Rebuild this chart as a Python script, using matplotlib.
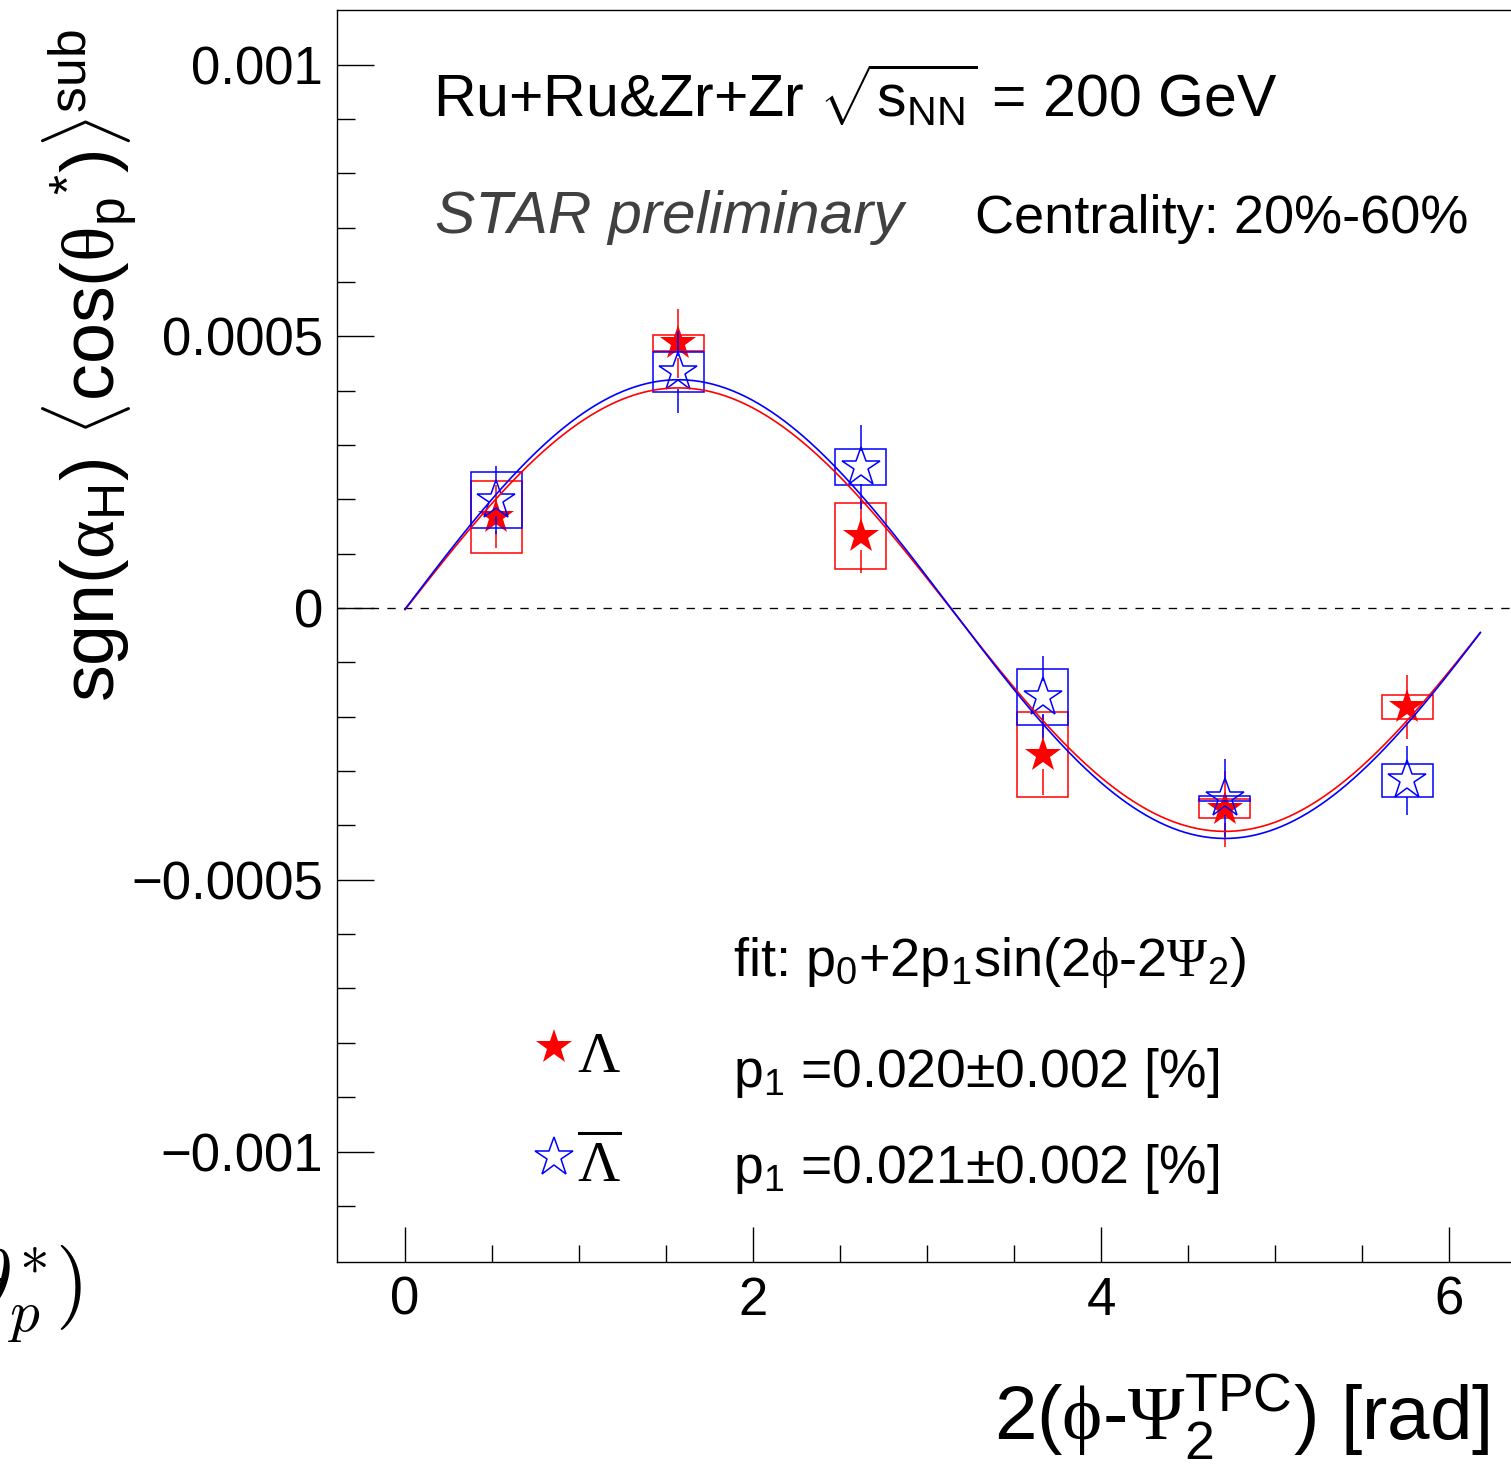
import numpy as np
import matplotlib
matplotlib.use("Agg")
import matplotlib.pyplot as plt
from matplotlib.lines import Line2D
from matplotlib.ticker import FixedLocator, FixedFormatter, MultipleLocator

plt.rcParams.update({
    "font.family": ["Liberation Sans", "DejaVu Sans"],
    "mathtext.fontset": "custom",
    "mathtext.rm": "Liberation Sans",
    "mathtext.it": "Liberation Sans:italic",
    "mathtext.bf": "Liberation Sans:bold",
    "mathtext.sf": "Liberation Serif",
    "mathtext.default": "rm",
})

# ---- data -------------------------------------------------------------
# bin centres in 2(phi - Psi2) [rad]
phase = [0.524, 1.571, 2.618, 3.665, 4.712, 5.760]

# Lambda
lam_val = [0.000168, 0.000487, 0.000133, -0.000270, -0.000369, -0.000182]
lam_stat = [0.000058, 0.000064, 0.000069, 0.000074, 0.000070, 0.000059]
lam_sys = [0.000066, 0.000015, 0.000061, 0.000078, 0.000018, 0.000022]

# anti-Lambda
alam_val = [0.000199, 0.000434, 0.000259, -0.000164, -0.000350, -0.000317]
alam_stat = [0.000063, 0.000075, 0.000077, 0.000075, 0.000072, 0.000064]
alam_sys = [0.000051, 0.000037, 0.000033, 0.000051, 0.000005, 0.000030]

# fit p0 + 2 p1 sin(x)
lam_fit = {"p0": -0.000003, "p1": 0.000204}
alam_fit = {"p0": -0.000002, "p1": 0.000211}
fit_range = [0.0, 6.18]

xtick_values = [0, 2, 4, 6]
xtick_labels = ["0", "2", "4", "6"]
ytick_values = [0.001, 0.0005, 0.0, -0.0005, -0.001]
ytick_labels = ["0.001", "0.0005", "0", "\u22120.0005", "\u22120.001"]

# ---- figure -----------------------------------------------------------
W, H = 1511, 1481
fig = plt.figure(figsize=(W / 100, H / 100), dpi=100)


def fpos(x, y):
    return x / W, 1 - y / H


ax = fig.add_axes([337 / W, 1 - 1262 / H, (1566.6 - 337) / W, (1262 - 10) / H])
ax.set_xlim(-0.391, 6.676)
ax.set_ylim(-0.0012033, 0.0011003)
ax.set_facecolor("none")

for side in ("left", "bottom", "top"):
    ax.spines[side].set_linewidth(1.0)
ax.spines["right"].set_visible(False)

ax.xaxis.set_major_locator(FixedLocator(xtick_values))
ax.xaxis.set_major_formatter(FixedFormatter(xtick_labels))
ax.xaxis.set_minor_locator(MultipleLocator(0.5))
ax.yaxis.set_major_locator(FixedLocator(ytick_values))
ax.yaxis.set_major_formatter(FixedFormatter(ytick_labels))
ax.yaxis.set_minor_locator(FixedLocator(np.arange(-11, 11) * 0.0001))

ax.tick_params(axis="both", which="both", direction="in", width=1.0,
               top=False, right=False, labelsize=38)
ax.tick_params(axis="y", which="major", length=26.6, pad=10)
ax.tick_params(axis="y", which="minor", length=13)
ax.tick_params(axis="x", which="major", length=25.2, pad=10)
ax.tick_params(axis="x", which="minor", length=12.2)

ax.axhline(0, color="black", lw=0.95, ls=(0, (6.3, 6.3)), zorder=1)

BOX_HALF = 0.146
RED_MS, BLUE_MS = 26.5, 29.5
LW = 1.1

# pixels per data unit along y, used to leave the marker area free of error bar
fig.canvas.draw()
ppu = (ax.transData.transform((0, 1e-3))[1] - ax.transData.transform((0, 0))[1]) / 1e-3


def draw_series(vals, stat, sys, color, ms, filled, z):
    x = np.asarray(phase)
    y = np.asarray(vals)
    s = np.asarray(stat)
    b = np.asarray(sys)
    gap = 0.5 * ms * 0.8 / 72 * fig.dpi / ppu
    ax.vlines(x, y + gap, y + s, color=color, lw=LW, zorder=z)
    ax.vlines(x, y - s, y - gap, color=color, lw=LW, zorder=z)
    ax.bar(x, 2 * b, bottom=y - b, width=2 * BOX_HALF, fill=False,
           edgecolor=color, linewidth=LW, zorder=z)
    ax.plot(x, y, ls="none", marker="*", ms=ms,
            mfc=color if filled else "none", mec=color,
            mew=0 if filled else LW, zorder=z + 0.5)


draw_series(lam_val, lam_stat, lam_sys, "red", RED_MS, True, 3)
draw_series(alam_val, alam_stat, alam_sys, "blue", BLUE_MS, False, 5)

xf = np.linspace(fit_range[0], fit_range[1], 500)
ax.plot(xf, lam_fit["p0"] + 2 * lam_fit["p1"] * np.sin(xf), color="red", lw=1.2, zorder=7)
ax.plot(xf, alam_fit["p0"] + 2 * alam_fit["p1"] * np.sin(xf), color="blue", lw=1.2, zorder=7.5)

# ---- annotations ------------------------------------------------------
fig.text(*fpos(433, 117), r"Ru+Ru&Zr+Zr $\sqrt{s_{NN}}$ = 200 GeV",
         fontsize=42.5, va="baseline", ha="left")
fig.text(*fpos(435, 233), "STAR preliminary", fontsize=43.5, style="italic",
         color="#404040", va="baseline", ha="left")
fig.text(*fpos(975, 233), "Centrality: 20%-60%", fontsize=39,
         va="baseline", ha="left")

fig.text(*fpos(733, 976), r"fit: p$_0$+2p$_1$sin(2$\mathsf{\phi}$-2$\mathsf{\Psi}_2$)",
         fontsize=39, va="baseline", ha="left")
fig.text(*fpos(733, 1087), r"p$_1$ =0.020$\pm$0.002 [%]", fontsize=38.5,
         va="baseline", ha="left")
fig.text(*fpos(733, 1183), r"p$_1$ =0.021$\pm$0.002 [%]", fontsize=38.5,
         va="baseline", ha="left")

# legend entries
fig.add_artist(Line2D([554 / W], [1 - 1047 / H], transform=fig.transFigure,
                      ls="none", marker="*", ms=RED_MS, mfc="red", mec="red", mew=0))
fig.add_artist(Line2D([554 / W], [1 - 1157 / H], transform=fig.transFigure,
                      ls="none", marker="*", ms=BLUE_MS, mfc="none", mec="blue", mew=LW))
fig.text(*fpos(577, 1072), "\u039b", family="Liberation Serif", fontsize=42,
         va="baseline", ha="left")
fig.text(*fpos(577, 1182), r"$\overline{\mathsf{\Lambda}}$", fontsize=42,
         va="baseline", ha="left")

# axis titles
fig.text(*fpos(1490, 1440), r"2($\mathsf{\phi}$-$\mathsf{\Psi}_{2}^{TPC}$) [rad]",
         fontsize=55, va="baseline", ha="right")
fig.text(*fpos(90, 366),
         r"sgn($\mathsf{\alpha}_{H}$) $\langle$cos($\mathsf{\theta}_{p}{}^{*}$)$\rangle^{sub}$",
         fontsize=53, rotation=90, va="center", ha="center")

# leftover piece of a wider label at the lower-left edge
fig.text(*fpos(82, 1309), r"$\mathbf{\theta}^{*}_{\mathit{p}})$", fontsize=61,
         math_fontfamily="cm", va="baseline", ha="right")

fig.savefig("out.png", dpi=100)
